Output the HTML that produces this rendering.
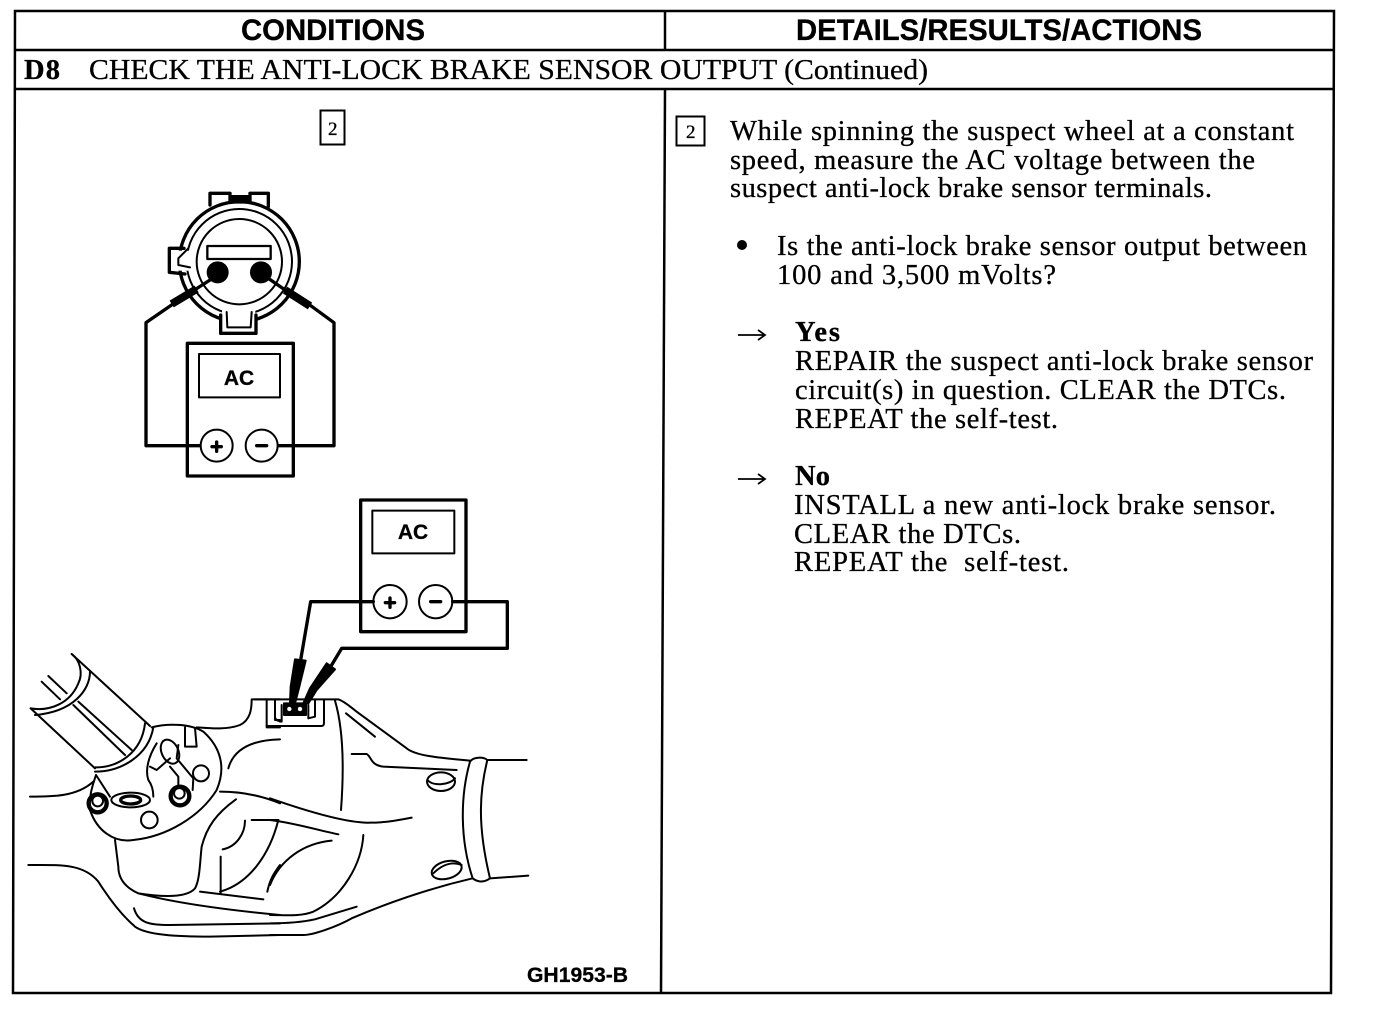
<!DOCTYPE html>
<html><head><meta charset="utf-8"><style>
html,body{margin:0;padding:0;background:#fff;width:1376px;height:1010px;overflow:hidden}
svg{display:block}
.t{font-family:"Liberation Serif",serif;font-size:28.500px;fill:#000;stroke:#000;stroke-width:.3}
.b{font-weight:bold}
.h{font-family:"Liberation Sans",sans-serif;font-weight:bold;font-size:30px;fill:#000;stroke:#000;stroke-width:.3}
.a{font-family:"Liberation Sans",sans-serif;font-weight:bold;font-size:21px;fill:#000;stroke:#000;stroke-width:.3}
.n{font-family:"Liberation Serif",serif;font-size:19px;fill:#000;stroke:#000;stroke-width:.3}
.l path,.l circle,.l ellipse,.l rect{fill:none;stroke:#000;stroke-width:6;stroke-linecap:round;stroke-linejoin:round}
.l .w{stroke-width:10}
.l .k{fill:#000;stroke:#000}
.l .f{fill:#fff}
.l .e{fill:#fff;stroke:none}
</style></head><body>
<svg width="1376" height="1010" viewBox="0 0 1376 1010" xmlns="http://www.w3.org/2000/svg">
<rect width="1376" height="1010" fill="#fff"/>
<!-- table -->
<g fill="none" stroke="#000" stroke-width="2.500">
<path d="M15 11 L1334 11 L1331 993 L13 993 Z"/>
<path d="M15 50 L1334 50"/>
<path d="M15 89 L1334 89"/>
<path d="M665 11 L665 50"/>
<path d="M665 89 L661 993"/>
</g>
<g fill="none" stroke="#000" stroke-width="2">
<rect x="320.500" y="110.500" width="24" height="34"/>
<rect x="676.500" y="116.500" width="28" height="29"/>
</g>
<text class="h" x="241" y="40" textLength="184" lengthAdjust="spacingAndGlyphs">CONDITIONS</text>
<text class="h" x="796" y="40" textLength="406" lengthAdjust="spacingAndGlyphs">DETAILS/RESULTS/ACTIONS</text>
<text class="t b" x="24" y="79" textLength="36">D8</text>
<text class="t" x="89" y="79" textLength="839" lengthAdjust="spacingAndGlyphs">CHECK THE ANTI-LOCK BRAKE SENSOR OUTPUT (Continued)</text>
<text class="n" x="328" y="135">2</text>
<text class="n" x="686" y="138">2</text>
<!-- right text -->
<text class="t" x="730" y="140" textLength="564">While spinning the suspect wheel at a constant</text>
<text class="t" x="730" y="169" textLength="525">speed, measure the AC voltage between the</text>
<text class="t" x="730" y="197" textLength="482">suspect anti-lock brake sensor terminals.</text>
<circle cx="742" cy="245" r="5" fill="#000"/>
<text class="t" x="777" y="255" textLength="530">Is the anti-lock brake sensor output between</text>
<text class="t" x="777" y="284" textLength="279">100 and 3,500 mVolts?</text>
<text class="t b" x="795" y="341" textLength="45">Yes</text>
<text class="t" x="795" y="370" textLength="518">REPAIR the suspect anti-lock brake sensor</text>
<text class="t" x="795" y="399" textLength="491">circuit(s) in question. CLEAR the DTCs.</text>
<text class="t" x="795" y="428" textLength="263">REPEAT the self-test.</text>
<text class="t b" x="795" y="485" textLength="35">No</text>
<text class="t" x="794" y="514" textLength="482">INSTALL a new anti-lock brake sensor.</text>
<text class="t" x="794" y="543" textLength="227">CLEAR the DTCs.</text>
<text class="t" x="794" y="571" textLength="275">REPEAT the&#160; self-test.</text>
<g fill="none" stroke="#000" stroke-width="1.800">
<path d="M738 335 L765 335 M758 330 L765 335 L758 340"/>
<path d="M738 479 L765 479 M758 474 L765 479 L758 484"/>
</g>
<text class="a" x="527" y="982" textLength="101" lengthAdjust="spacingAndGlyphs">GH1953-B</text>

<!-- top connector + meter -->
<g class="l" transform="translate(120,180) scale(.33333)">
<path class="w" d="M270 75 L270 40 L330 40 L330 62 M390 62 L390 40 L445 40 L445 80"/>
<rect class="k" x="330" y="48" width="60" height="20"/>
<circle class="w" cx="358" cy="245" r="180"/>
<circle cx="358" cy="245" r="158"/>
<circle cx="358" cy="245" r="128"/>
<rect class="e" x="150" y="212" width="70" height="60"/>
<path class="w" d="M192 205 L148 205 L148 277 L195 282"/>
<path d="M205 205 L175 235 L175 255 L210 262"/>
<rect class="e" x="306" y="385" width="100" height="72"/>
<path class="w" d="M302 405 L302 460 L408 460 L408 405"/>
<path d="M320 396 L322 442 L392 442 L395 396"/>
<rect class="w" style="stroke-width:7" x="262" y="198" width="190" height="39"/>
<circle class="k" cx="293" cy="277" r="30"/>
<circle class="k" cx="423" cy="277" r="30"/>
<path class="w" d="M270 300 L200 345"/>
<path class="w" d="M445 295 L510 340"/>
<path d="M230 327 L155 372" style="stroke-width:24;stroke-linecap:butt"/>
<path d="M495 330 L570 378" style="stroke-width:24;stroke-linecap:butt"/>
<path class="w" d="M165 368 L78 428 L78 797 L242 797"/>
<path class="w" d="M560 368 L642 428 L642 797 L473 797"/>
<rect class="w" x="202" y="490" width="318" height="398"/>
<rect x="237" y="522" width="243" height="130"/>
<circle class="f" cx="290" cy="797" r="48"/>
<circle class="f" cx="425" cy="797" r="48"/>
<path class="w" d="M276 800 L304 800 M290 786 L290 814"/>
<path class="w" d="M410 797 L440 797"/>
</g>
<text class="a" x="239" y="385" text-anchor="middle">AC</text>

<!-- lower meter + housing right -->
<g class="l" transform="translate(270,490) scale(.33333)">
<rect class="w" x="272" y="30" width="316" height="395"/>
<rect x="307" y="62" width="246" height="128"/>
<circle class="f" cx="360" cy="335" r="50"/>
<circle class="f" cx="497" cy="335" r="50"/>
<path class="w" d="M346 338 L374 338 M360 324 L360 352"/>
<path class="w" d="M482 335 L512 335"/>
<path class="w" d="M310 335 L122 335 L92 510"/>
<path class="w" d="M548 335 L712 335 L712 475 L215 475 L185 525"/>
<path class="k" d="M75 508 L107 512 L88 590 L75 640 L60 640 L62 590 Z"/>
<path class="k" d="M170 520 L195 538 L140 600 L115 640 L100 640 L120 595 Z"/>
<!-- connector -->
<path d="M-45 628 L205 628 C225 635 240 650 260 665 L410 775 C440 800 530 805 600 812"/>
<path d="M-10 708 L155 708 Q162 708 162 698 L162 628"/>
<path d="M15 628 L15 680 C15 690 28 695 35 695 M35 695 L35 645 M135 628 L135 680 L115 685 L115 645"/>
<rect class="k" x="42" y="640" width="66" height="35"/>
<circle cx="58" cy="657" r="6" style="fill:#fff;stroke:#fff;stroke-width:1"/>
<circle cx="90" cy="657" r="6" style="fill:#fff;stroke:#fff;stroke-width:1"/>
<path d="M195 632 C215 700 225 800 213 960"/>
<path d="M228 670 L315 740"/>
<path d="M245 792 L290 792 C305 800 300 825 340 830 L560 840"/>
<ellipse cx="513" cy="875" rx="42" ry="28"/>
<path d="M472 870 C490 890 540 885 555 865"/>
<path d="M600 815 C610 800 640 800 652 810 C630 900 620 1000 660 1165 C640 1180 620 1175 608 1165 C570 1050 570 920 600 815"/>
<path d="M652 810 L770 810 M660 1165 L775 1157"/>
<ellipse cx="530" cy="1140" rx="46" ry="26" transform="rotate(-15 530 1140)"/>
<path d="M490 1150 C520 1120 550 1115 575 1125"/>
<path d="M0 925 C100 960 230 1000 300 998 C350 998 390 990 425 983"/>
<path d="M0 990 C80 1000 140 1020 205 1033"/>
<path d="M185 1052 C100 1060 30 1110 0 1185"/>
<path d="M280 1035 C275 1120 220 1220 130 1265 C90 1280 50 1275 0 1275"/>
<path d="M260 1250 L135 1288 C90 1298 50 1300 0 1300"/>
<path d="M608 1165 C480 1195 350 1240 245 1285 C200 1310 130 1335 100 1335 L0 1335"/>
</g>
<text class="a" x="413" y="539" text-anchor="middle">AC</text>

<!-- housing left -->
<g class="l" transform="translate(10,640) scale(.33333)">
<path d="M185 42 L420 258"/>
<path d="M62 205 L255 385"/>
<path d="M185 42 C210 60 220 100 205 130 C180 190 120 215 62 205"/>
<path d="M240 95 C240 150 190 215 75 225"/>
<path d="M95 125 L150 178 M115 108 L170 160 M190 195 L345 345 M205 185 L365 330"/>
<path d="M255 382 C320 385 395 340 405 250"/>
<path d="M255 395 C330 395 415 350 430 262"/>
<path d="M425 262 C470 250 540 250 580 275 C630 320 650 380 620 450 C570 530 470 590 370 600 C310 610 260 570 240 510 C235 470 250 430 258 405 L300 470"/>
<circle cx="263" cy="490" r="27" style="stroke-width:13"/>
<circle cx="263" cy="483" r="16"/>
<ellipse cx="362" cy="480" rx="58" ry="22"/>
<ellipse cx="362" cy="480" rx="30" ry="12" class="w"/>
<circle cx="418" cy="540" r="25"/>
<circle cx="573" cy="400" r="24"/>
<circle cx="510" cy="468" r="28" style="stroke-width:13"/>
<circle cx="508" cy="460" r="16"/>
<path d="M525 262 L525 320 L560 320 L555 265"/>
<ellipse cx="480" cy="335" rx="25" ry="38" transform="rotate(-25 480 335)"/>
<path d="M440 310 C415 350 405 390 415 420 C430 440 430 460 430 470"/>
<path d="M420 380 L440 390 L480 355 M480 380 L505 410 L505 440"/>
<path d="M505 315 L500 355 L550 415 L548 450"/>
<path d="M560 262 C600 265 650 270 690 255 C720 240 725 210 725 178 L770 178 L810 178"/>
<path d="M770 178 L770 262 L810 262 M795 185 L795 240 L810 240"/>
<path d="M655 385 C670 330 720 300 810 298"/>
<path d="M630 455 C690 455 750 465 810 490"/>
<path d="M60 470 C130 470 200 470 250 425"/>
<path d="M678 478 C620 520 590 560 575 620 C570 660 570 720 555 745 C530 775 450 770 385 760 C340 740 325 710 325 680 L315 600"/>
<path d="M385 760 C500 790 650 810 810 825"/>
<path d="M705 542 C705 580 680 620 638 628"/>
<path d="M632 650 L632 760"/>
<path d="M725 540 L805 540"/>
<path d="M805 540 C780 640 720 730 630 755"/>
<path d="M570 755 L760 778"/>
<path d="M772 755 C780 715 795 695 810 675"/>
<path d="M55 675 C150 675 220 670 265 725 C300 780 340 830 375 860 C410 885 500 890 600 890 L810 885"/>
<path d="M372 805 C385 850 420 855 480 855 L810 850"/>
</g>
</svg>
</body></html>
